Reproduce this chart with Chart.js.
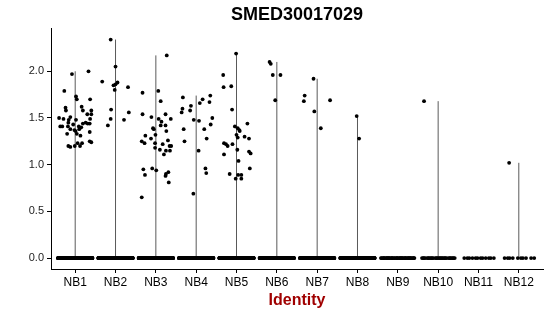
<!DOCTYPE html>
<html>
<head>
<meta charset="utf-8">
<script src="https://cdn.jsdelivr.net/npm/chart.js@4"></script>
<style>
  html, body { margin: 0; padding: 0; background: #fff; }
</style>
</head>
<body>
<canvas id="vlnPlot" width="550" height="316"></canvas>
<script>
// Violin/jitter plot of SMED30017029 per cluster

const categories = ['NB1', 'NB2', 'NB3', 'NB4', 'NB5', 'NB6', 'NB7', 'NB8', 'NB9', 'NB10', 'NB11', 'NB12'];
const yTicks = [0, 0.5, 1.0, 1.5, 2.0];

// non-zero expression values per cluster
const exprValues = [
  [1.97, 2.00, 1.79, 1.73, 1.70, 1.70, 1.61, 1.58, 1.62, 1.58, 1.58, 1.54, 1.54, 1.50, 1.49, 1.51, 1.48, 1.48,
   1.41, 1.41, 1.41, 1.45, 1.43, 1.41, 1.44, 1.45, 1.44, 1.44, 1.49, 1.37, 1.36, 1.38, 1.40, 1.38, 1.33, 1.33,
   1.31, 1.35, 1.23, 1.23, 1.20, 1.19, 1.20, 1.20, 1.25, 1.24],
  [2.34, 2.05, 1.89, 1.85, 1.86, 1.88, 1.80, 1.83, 1.59, 1.56, 1.49, 1.48, 1.42],
  [2.17, 1.77, 1.79, 1.68, 1.54, 1.54, 1.51, 1.49, 1.49, 1.46, 1.39, 1.38, 1.42, 1.42, 1.31, 1.32, 1.28, 1.25,
   1.23, 1.36, 1.26, 1.23, 1.22, 1.20, 1.20, 1.16, 1.15, 1.15, 1.18, 1.11, 0.95, 0.96, 0.94, 0.89, 0.92, 0.90,
   0.88, 0.81, 0.65],
  [1.72, 1.74, 1.60, 1.63, 1.70, 1.67, 1.66, 1.56, 1.58, 1.50, 1.48, 1.47, 1.38, 1.38, 1.43, 1.25, 1.28, 1.15,
   0.96, 0.91, 0.69],
  [2.19, 1.96, 1.83, 1.84, 1.59, 1.44, 1.41, 1.39, 1.37, 1.36, 1.32, 1.23, 1.22, 1.20, 1.22, 1.30, 1.28, 1.29,
   1.11, 1.16, 1.14, 1.12, 1.04, 0.90, 0.89, 0.89, 0.85, 0.85, 0.96],
  [2.10, 2.08, 1.96, 1.96, 1.69],
  [1.92, 1.74, 1.68, 1.69, 1.57, 1.39],
  [1.52, 1.28],
  [],
  [1.68],
  [],
  [1.02]
];

// horizontal jitter of those points (in category units)
const exprJitter = [
  [-0.08, 0.33, -0.27, 0.02, 0.04, 0.37, -0.24, -0.23, 0.16, 0.19, 0.40, 0.40, 0.30, -0.40, -0.29, -0.12, -0.16, 0.02,
   -0.37, -0.32, -0.18, -0.17, -0.05, 0.09, 0.19, 0.26, 0.31, 0.36, 0.37, -0.02, 0.01, 0.10, 0.15, -0.12, -0.20, 0.04,
   0.13, 0.36, 0.06, 0.17, -0.17, -0.12, -0.01, 0.12, 0.36, 0.40],
  [-0.12, 0.00, -0.33, -0.05, 0.00, 0.05, -0.02, 0.31, -0.11, 0.33, -0.12, 0.21, -0.19],
  [0.27, -0.33, 0.06, 0.12, -0.33, 0.24, -0.11, 0.07, 0.37, 0.14, -0.07, -0.05, 0.12, 0.24, -0.26, -0.01, -0.12, -0.35,
   -0.28, 0.26, 0.30, -0.02, 0.17, 0.34, 0.38, 0.10, 0.25, 0.35, -0.02, 0.20, -0.31, -0.09, 0.01, -0.27, 0.31, 0.25,
   0.24, 0.32, -0.35],
  [-0.33, 0.35, -0.34, -0.13, 0.16, 0.33, 0.09, -0.36, -0.15, 0.40, -0.06, 0.07, 0.20, -0.31, 0.36, -0.29, 0.26, 0.06,
   0.23, 0.25, -0.07],
  [-0.01, -0.33, -0.32, -0.13, -0.11, 0.27, -0.04, 0.03, 0.07, 0.08, 0.00, -0.31, -0.26, -0.22, -0.10, 0.20, 0.31, 0.03,
   -0.31, 0.02, 0.31, 0.35, 0.05, -0.17, 0.04, 0.12, -0.02, 0.12, 0.33],
  [-0.18, -0.15, -0.10, 0.09, -0.04],
  [-0.09, -0.31, -0.33, 0.32, -0.07, 0.09],
  [-0.02, 0.04],
  [],
  [-0.35],
  [],
  [-0.24]
];

// number of cells with zero expression per cluster
const zeroCounts = [400, 400, 400, 400, 400, 300, 300, 300, 45, 30, 12, 10];

const points = [];
categories.forEach((c, i) => {
  for (let k = 0; k < zeroCounts[i]; k++) {
    const off = (((k + 1) * 0.6180339887) % 1 - 0.5) * 0.86;
    points.push({ x: i + 1 + off, y: 0 });
  }
  exprValues[i].forEach((v, k) => points.push({ x: i + 1 + exprJitter[i][k], y: v }));
});

// violin outlines collapse to a thin line from 0 to the max value
const violinSets = categories.map((c, i) => {
  const vals = exprValues[i];
  const top = vals.length ? Math.max(...vals) : 0;
  return {
    type: 'line',
    data: vals.length ? [{ x: i + 1, y: 0 }, { x: i + 1, y: top }] : [],
    borderColor: 'rgba(0,0,0,0.65)',
    borderWidth: 1,
    pointRadius: 0,
    order: 2
  };
});

Chart.defaults.font.family = '"Liberation Sans", Arial, sans-serif';
Chart.defaults.color = '#000';

new Chart(document.getElementById('vlnPlot'), {
  type: 'scatter',
  data: {
    datasets: [{
      data: points,
      backgroundColor: '#000',
      borderWidth: 0,
      pointRadius: 1.9,
      order: 1
    }, ...violinSets]
  },
  options: {
    responsive: false,
    animation: false,
    devicePixelRatio: 1,
    layout: { padding: { left: 0, right: 7, top: 0, bottom: 0 } },
    plugins: {
      legend: { display: false },
      tooltip: { enabled: false },
      title: {
        display: true,
        text: 'SMED30017029',
        fullSize: false,
        font: { size: 18, weight: 'bold' },
        color: '#000',
        padding: { top: 4, bottom: 3 }
      }
    },
    scales: {
      x: {
        type: 'linear',
        min: 0.4,
        max: 12.6,
        afterBuildTicks: (scale) => { scale.ticks = categories.map((c, i) => ({ value: i + 1 })); },
        afterFit: (scale) => { scale.height = 47; },
        ticks: {
          autoSkip: false,
          maxRotation: 0,
          padding: 2,
          font: { size: 12 },
          color: '#000',
          callback: (v) => categories[v - 1]
        },
        grid: { drawOnChartArea: false, tickLength: 4, color: '#000' },
        border: { color: '#000', width: 1 },
        title: {
          display: true,
          text: 'Identity',
          color: '#a00000',
          font: { size: 16, weight: 'bold' },
          padding: { top: 0, bottom: 6 }
        }
      },
      y: {
        min: -0.117,
        max: 2.457,
        afterBuildTicks: (scale) => { scale.ticks = yTicks.map(v => ({ value: v })); },
        afterFit: (scale) => { scale.width = 51; },
        ticks: {
          padding: 3,
          font: { size: 11 },
          color: '#222',
          callback: (v) => v.toFixed(1)
        },
        grid: { drawOnChartArea: false, tickLength: 4, color: '#000' },
        border: { color: '#000', width: 1 }
      }
    }
  }
});
</script>
</body>
</html>
